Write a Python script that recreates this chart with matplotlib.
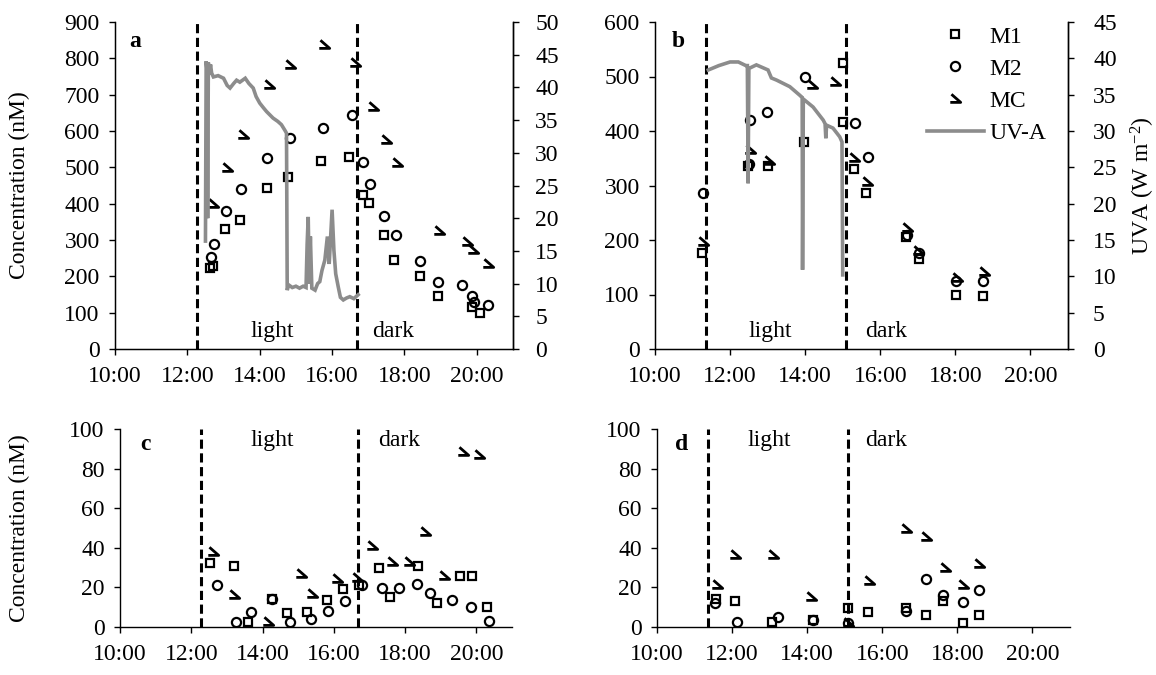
import matplotlib
matplotlib.use("Agg")
import matplotlib.pyplot as plt
from matplotlib.path import Path
from matplotlib.lines import Line2D

plt.rcParams['font.family'] = ['Liberation Serif', 'DejaVu Serif']
plt.rcParams['mathtext.fontset'] = 'custom'
plt.rcParams['mathtext.rm'] = 'Liberation Serif'
plt.rcParams['mathtext.it'] = 'Liberation Serif:italic'
FS = 17
plt.rcParams['font.size'] = FS

# ---------------- data (time in decimal hours, concentration in nM) ----------------
# Panel a
a_m1_t = [12.62, 12.72, 13.05, 13.45, 14.19, 14.79, 15.68, 16.47, 16.86, 17.03, 17.43, 17.72, 18.44, 18.93, 19.88, 20.10]
a_m1 = [222, 228, 330, 355, 444, 474, 518, 528, 424, 403, 314, 245, 201, 146, 116, 98]
a_m2_t = [12.65, 12.74, 13.07, 13.47, 14.19, 14.85, 15.74, 16.54, 16.86, 17.06, 17.43, 17.78, 18.44, 18.93, 19.60, 19.86, 19.92, 20.31]
a_m2 = [254, 288, 381, 440, 527, 580, 609, 644, 516, 453, 367, 314, 243, 185, 176, 146, 128, 121]
a_mc_t = [12.72, 13.09, 13.53, 14.26, 14.83, 15.77, 16.63, 17.13, 17.49, 17.80, 18.96, 19.72, 19.90, 20.30]
a_mc = [399, 497, 589, 727, 782, 837, 786, 667, 575, 511, 325, 295, 272, 235]
a_uv_t = [12.50, 12.52, 12.545, 12.56, 12.58, 12.61, 12.64, 12.67, 12.72, 12.85, 13.00, 13.10, 13.18,
          13.28, 13.36, 13.45, 13.60, 13.70, 13.82, 13.90, 14.00, 14.10, 14.19, 14.28, 14.37, 14.50,
          14.60, 14.70, 14.74, 14.76, 14.80, 14.90, 15.00, 15.10, 15.20, 15.28, 15.31, 15.34, 15.37,
          15.40, 15.44, 15.53, 15.60, 15.66, 15.72, 15.80, 15.87, 15.92, 16.00, 16.05, 16.10, 16.17,
          16.23, 16.31, 16.40, 16.49, 16.60, 16.72]
a_uv = [16.5, 44.0, 42.5, 20.0, 43.8, 42.0, 43.5, 42.2, 41.6, 41.8, 41.4, 40.3, 39.9,
        40.6, 41.1, 40.8, 41.4, 40.6, 39.9, 38.6, 37.6, 36.9, 36.3, 35.8, 35.3, 34.8,
        34.3, 33.4, 33.0, 9.0, 9.8, 9.4, 9.6, 9.3, 9.6, 9.4, 16.0, 20.2, 10.0,
        17.2, 9.3, 9.0, 10.0, 10.3, 12.0, 13.6, 17.2, 13.0, 21.3, 15.1, 11.5, 9.5,
        7.9, 7.5, 7.8, 8.0, 7.7, 8.3]

# Panel b
b_m1_t = [11.24, 12.48, 13.01, 13.96, 15.00, 15.01, 15.30, 15.63, 16.68, 17.02, 18.03, 18.74]
b_m1 = [176, 336, 336, 379, 525, 417, 331, 286, 206, 165, 100, 97]
b_m2_t = [11.27, 12.50, 12.53, 12.99, 13.99, 15.32, 15.67, 16.70, 17.02, 18.03, 18.74]
b_m2 = [287, 340, 420, 434, 500, 414, 352, 209, 177, 125, 125]
b_mc_t = [11.28, 12.52, 13.03, 14.17, 14.79, 15.30, 15.65, 16.72, 17.00, 18.04, 18.75]
b_mc = [197, 365, 345, 484, 489, 350, 307, 222, 180, 130, 142]
b_uv_t = [11.42, 11.70, 12.00, 12.22, 12.42, 12.46, 12.48, 12.50, 12.70, 13.01, 13.10, 13.24,
          13.59, 13.86, 13.92, 13.93, 13.95, 14.21, 14.48, 14.53, 14.55, 14.57, 14.74, 14.92,
          14.98, 15.00]
b_uv = [38.4, 39.0, 39.5, 39.5, 39.0, 39.0, 22.8, 38.6, 39.1, 38.4, 37.3, 37.0,
        36.1, 34.9, 34.6, 10.9, 34.4, 33.3, 31.5, 31.0, 29.0, 30.8, 30.4, 29.2,
        28.5, 10.2]

# Panel c
c_m1_t = [12.53, 13.20, 13.60, 14.26, 14.68, 15.26, 15.82, 16.26, 16.70, 17.28, 17.59, 18.36, 18.89, 19.54, 19.89, 20.30]
c_m1 = [32.5, 30.8, 2.4, 14, 7.2, 7.7, 13.6, 19, 21, 30, 15, 31, 12, 26, 26, 10]
c_m2_t = [12.72, 13.26, 13.68, 14.26, 14.77, 15.35, 15.84, 16.31, 16.80, 17.35, 17.82, 18.33, 18.71, 19.31, 19.85, 20.35]
c_m2 = [21, 2.4, 7.4, 14, 2.4, 4, 8.2, 13, 21, 19.5, 19.5, 21.6, 17, 13.6, 10.3, 3.2]
c_mc_t = [12.60, 13.20, 14.14, 15.07, 15.40, 16.10, 16.66, 17.08, 17.62, 18.10, 18.57, 19.08, 19.63, 20.06]
c_mc = [38, 16, 2.7, 27, 16.5, 24, 25, 41, 33, 33, 48, 26, 88.5, 87]

# Panel d
d_m1_t = [11.57, 12.07, 13.05, 14.16, 15.10, 15.62, 16.62, 17.17, 17.62, 18.16, 18.57]
d_m1 = [14, 13, 2.7, 3.5, 9.4, 7.7, 9.4, 6, 13, 2.2, 6]
d_m2_t = [11.55, 12.12, 13.23, 14.16, 15.10, 16.62, 17.17, 17.62, 18.16, 18.57]
d_m2 = [12, 2.7, 5.2, 3.5, 2, 8, 24, 16, 12.8, 18.7]
d_mc_t = [11.59, 12.07, 13.09, 14.11, 15.09, 15.65, 16.62, 17.17, 17.68, 18.16, 18.57]
d_mc = [21, 36.4, 36.4, 15.3, 2, 23, 49.3, 45.6, 30, 21, 31.7]

# light/dark boundaries
ac_bounds = [12.27, 16.68]
bd_bounds = [11.37, 15.08]

hour_ticks = [10, 12, 14, 16, 18, 20]
hour_labels = ["10:00", "12:00", "14:00", "16:00", "18:00", "20:00"]

# ---------------- styles ----------------
W, H = 1156, 675
mc_marker = Path([(-0.35, 0.45), (0.45, -0.25), (-0.45, -0.25)],
                 [Path.MOVETO, Path.LINETO, Path.LINETO])
sq_kw = dict(ls='none', marker='s', ms=6.2, mfc='none', mec='black', mew=1.6)
ci_kw = dict(ls='none', marker='o', ms=6.6, mfc='none', mec='black', mew=1.6)
mc_kw = dict(ls='none', marker=mc_marker, ms=7.5, mfc='none', mec='black', mew=2.0)
uv_kw = dict(color='#8c8c8c', lw=2.6, solid_joinstyle='miter')
dash_kw = dict(color='black', lw=2.2, dashes=(3.0, 1.5), zorder=1)


def px_axes(fig, x0, y_bottom, x1, y_top):
    return fig.add_axes([x0 / W, 1 - y_bottom / H, (x1 - x0) / W, (y_bottom - y_top) / H])


def style_axis(ax, right=False):
    ax.set_xlim(10, 21)
    ax.set_xticks(hour_ticks)
    ax.set_xticklabels(hour_labels)
    ax.spines['top'].set_visible(False)
    ax.spines['right'].set_visible(right)
    for s in ('left', 'bottom', 'right'):
        ax.spines[s].set_linewidth(1.0)
    ax.tick_params(axis='both', direction='out', length=4, width=1, labelsize=FS)
    ax.tick_params(axis='y', pad=7)
    ax.tick_params(axis='x', pad=8)


def scatter_sets(ax, t1, v1, t2, v2, t3, v3):
    ax.plot(t1, v1, **sq_kw, zorder=3)
    ax.plot(t2, v2, **ci_kw, zorder=3)
    ax.plot(t3, v3, **mc_kw, zorder=3)


fig = plt.figure(figsize=(W / 100, H / 100), dpi=100)

# ---------------- panel a ----------------
ax_a = px_axes(fig, 115, 349, 513, 22)
style_axis(ax_a, right=True)
ax_a.set_ylim(0, 900)
ax_a.set_yticks(range(0, 901, 100))
for b in ac_bounds:
    ax_a.plot([b, b], [0, 900], **dash_kw)
scatter_sets(ax_a, a_m1_t, a_m1, a_m2_t, a_m2, a_mc_t, a_mc)
ax_a.set_ylabel("Concentration (nM)", fontsize=FS)
ax_a.yaxis.set_label_coords((30 - 115) / 398, 0.5)
ax_a.text(14.34, 48, "light", ha='center', va='center', fontsize=FS)
ax_a.text(17.68, 48, "dark", ha='center', va='center', fontsize=FS)
ax_a.text(0.05, 0.94, "a", transform=ax_a.transAxes, fontweight='bold', fontsize=FS,
          ha='center', va='center')
ax_a2 = ax_a.twinx()
ax_a2.set_ylim(0, 50)
ax_a2.set_yticks(range(0, 51, 5))
ax_a2.spines['top'].set_visible(False)
ax_a2.spines['right'].set_linewidth(1.0)
ax_a2.tick_params(axis='y', direction='out', length=4, width=1, labelsize=FS, pad=12)
ax_a2.plot(a_uv_t, a_uv, **uv_kw)

# ---------------- panel b ----------------
ax_b = px_axes(fig, 655, 349, 1068, 22)
style_axis(ax_b, right=True)
ax_b.set_ylim(0, 600)
ax_b.set_yticks(range(0, 601, 100))
for b in bd_bounds:
    ax_b.plot([b, b], [0, 600], **dash_kw)
scatter_sets(ax_b, b_m1_t, b_m1, b_m2_t, b_m2, b_mc_t, b_mc)
ax_b.text(13.06, 33, "light", ha='center', va='center', fontsize=FS)
ax_b.text(16.15, 33, "dark", ha='center', va='center', fontsize=FS)
ax_b.text(0.057, 0.94, "b", transform=ax_b.transAxes, fontweight='bold', fontsize=FS,
          ha='center', va='center')
ax_b2 = ax_b.twinx()
ax_b2.set_ylim(0, 45)
ax_b2.set_yticks(range(0, 46, 5))
ax_b2.spines['top'].set_visible(False)
ax_b2.spines['right'].set_linewidth(1.0)
ax_b2.tick_params(axis='y', direction='out', length=4, width=1, labelsize=FS, pad=14)
ax_b2.plot(b_uv_t, b_uv, **uv_kw)
ax_b2.set_ylabel("UVA (W m$^{-2}$)", fontsize=FS)
ax_b2.yaxis.set_label_coords((1129 - 655) / 413, 0.5)

handles = [Line2D([], [], **sq_kw), Line2D([], [], **ci_kw), Line2D([], [], **mc_kw),
           Line2D([], [], **uv_kw)]
fig.legend(handles, ["M1", "M2", "MC", "UV-A"], loc='upper left',
           bbox_to_anchor=(927 / W, 1 - 26 / H), frameon=False, fontsize=FS,
           handlelength=2.4, handletextpad=0.25, labelspacing=0.45,
           borderpad=0, borderaxespad=0)

# ---------------- panel c ----------------
ax_c = px_axes(fig, 120, 627, 512, 429)
style_axis(ax_c)
ax_c.set_ylim(0, 100)
ax_c.set_yticks(range(0, 101, 20))
for b in ac_bounds:
    ax_c.plot([b, b], [0, 100], **dash_kw)
scatter_sets(ax_c, c_m1_t, c_m1, c_m2_t, c_m2, c_mc_t, c_mc)
ax_c.set_ylabel("Concentration (nM)", fontsize=FS)
ax_c.yaxis.set_label_coords((30 - 120) / 392, 0.5)
ax_c.text(14.27, 94, "light", ha='center', va='center', fontsize=FS)
ax_c.text(17.82, 94, "dark", ha='center', va='center', fontsize=FS)
ax_c.text(0.064, 0.92, "c", transform=ax_c.transAxes, fontweight='bold', fontsize=FS,
          ha='center', va='center')

# ---------------- panel d ----------------
ax_d = px_axes(fig, 657, 627, 1070, 429)
style_axis(ax_d)
ax_d.set_ylim(0, 100)
ax_d.set_yticks(range(0, 101, 20))
for b in bd_bounds:
    ax_d.plot([b, b], [0, 100], **dash_kw)
scatter_sets(ax_d, d_m1_t, d_m1, d_m2_t, d_m2, d_mc_t, d_mc)
ax_d.text(13.0, 94, "light", ha='center', va='center', fontsize=FS)
ax_d.text(16.1, 94, "dark", ha='center', va='center', fontsize=FS)
ax_d.text(0.06, 0.92, "d", transform=ax_d.transAxes, fontweight='bold', fontsize=FS,
          ha='center', va='center')

fig.savefig("out.png", dpi=100)
